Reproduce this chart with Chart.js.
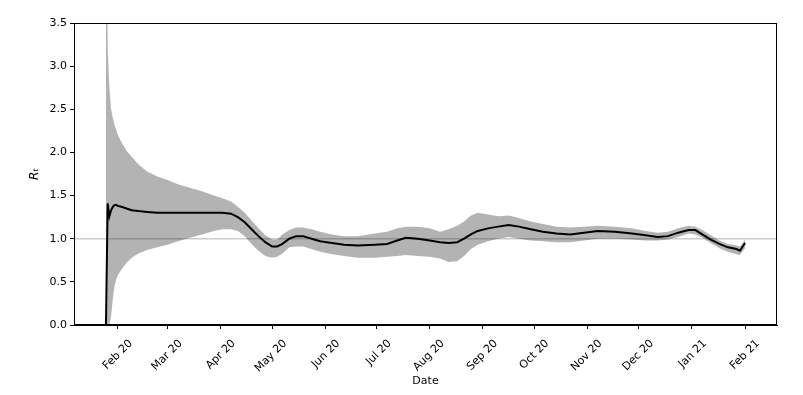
<!DOCTYPE html>
<html>
<head>
<meta charset="utf-8">
<script src="https://cdn.jsdelivr.net/npm/chart.js@4.4.1/dist/chart.umd.min.js"></script>
<style>
    html, body { margin: 0; padding: 0; background: #fff; }
</style>
</head>
<body>
<canvas id="chartRt" width="803" height="395"></canvas>
<script>
// datos (R_t estimado con su intervalo)
const fechas = [
    '2020-01-25', '2020-01-26', '2020-01-27', '2020-01-28', '2020-01-29', '2020-01-30', '2020-01-31',
    '2020-02-01', '2020-02-03', '2020-02-06', '2020-02-09', '2020-02-13', '2020-02-18', '2020-02-24',
    '2020-03-01', '2020-03-07', '2020-03-14', '2020-03-21', '2020-03-28', '2020-04-02', '2020-04-07',
    '2020-04-11', '2020-04-15', '2020-04-19', '2020-04-23', '2020-04-27', '2020-05-01', '2020-05-04',
    '2020-05-07', '2020-05-11', '2020-05-15', '2020-05-19', '2020-05-24', '2020-05-29', '2020-06-05',
    '2020-06-12', '2020-06-20', '2020-06-30', '2020-07-07', '2020-07-13', '2020-07-18', '2020-07-25',
    '2020-08-01', '2020-08-07', '2020-08-12', '2020-08-17', '2020-08-21', '2020-08-25', '2020-08-29',
    '2020-09-04', '2020-09-10', '2020-09-16', '2020-09-22', '2020-09-29', '2020-10-06', '2020-10-14',
    '2020-10-22', '2020-10-30', '2020-11-07', '2020-11-17', '2020-11-27', '2020-12-05', '2020-12-12',
    '2020-12-18', '2020-12-24', '2020-12-30', '2021-01-03', '2021-01-07', '2021-01-12', '2021-01-17',
    '2021-01-22', '2021-01-27', '2021-01-29', '2021-02-01'
];
const rtMedia = [
    0, 1.41, 1.26, 1.33, 1.37, 1.39, 1.39,
    1.38, 1.37, 1.35, 1.33, 1.32, 1.31, 1.30,
    1.30, 1.30, 1.30, 1.30, 1.30, 1.30, 1.29,
    1.25, 1.19, 1.11, 1.03, 0.96, 0.91, 0.91,
    0.94, 1.00, 1.03, 1.03, 1.00, 0.97, 0.95,
    0.93, 0.92, 0.93, 0.94, 0.98, 1.01, 1.00,
    0.98, 0.96, 0.95, 0.96, 1.00, 1.05, 1.09,
    1.12, 1.14, 1.16, 1.14, 1.11, 1.08, 1.06,
    1.05, 1.07, 1.09, 1.08, 1.06, 1.04, 1.02,
    1.03, 1.07, 1.10, 1.10, 1.05, 0.99, 0.94,
    0.90, 0.88, 0.86, 0.95
];
const rtInferior = [
    0, 0, 0, 0.10, 0.30, 0.45, 0.53,
    0.58, 0.64, 0.72, 0.78, 0.83, 0.87, 0.90,
    0.93, 0.97, 1.01, 1.05, 1.09, 1.11, 1.11,
    1.09, 1.03, 0.94, 0.86, 0.80, 0.78, 0.79,
    0.83, 0.90, 0.91, 0.91, 0.88, 0.85, 0.82,
    0.80, 0.78, 0.78, 0.79, 0.80, 0.81, 0.80,
    0.79, 0.77, 0.73, 0.74, 0.80, 0.88, 0.93,
    0.97, 1.00, 1.02, 1.00, 0.98, 0.97, 0.96,
    0.96, 0.98, 1.00, 1.00, 0.99, 0.98, 0.98,
    0.99, 1.02, 1.06, 1.05, 1.01, 0.95, 0.89,
    0.85, 0.82, 0.81, 0.89
];
const rtSuperior = [
    8, 3.2, 2.75, 2.5, 2.4, 2.32, 2.26,
    2.2, 2.12, 2.02, 1.95, 1.86, 1.78, 1.72,
    1.68, 1.63, 1.59, 1.55, 1.50, 1.47, 1.43,
    1.37, 1.30, 1.21, 1.12, 1.04, 0.99, 0.99,
    1.05, 1.10, 1.13, 1.13, 1.11, 1.08, 1.05,
    1.03, 1.03, 1.06, 1.08, 1.12, 1.14, 1.14,
    1.12, 1.08, 1.11, 1.15, 1.20, 1.27, 1.30,
    1.28, 1.26, 1.27, 1.24, 1.20, 1.17, 1.14,
    1.13, 1.14, 1.15, 1.14, 1.12, 1.09, 1.07,
    1.08, 1.12, 1.15, 1.14, 1.10, 1.04, 0.98,
    0.94, 0.92, 0.91, 0.99
];

const mesesFechas = [
    '2020-02-01', '2020-03-01', '2020-04-01', '2020-05-01', '2020-06-01', '2020-07-01', '2020-08-01',
    '2020-09-01', '2020-10-01', '2020-11-01', '2020-12-01', '2021-01-01', '2021-02-01'
];
const mesesEtiquetas = [
    'Feb 20', 'Mar 20', 'Apr 20', 'May 20', 'Jun 20', 'Jul 20', 'Aug 20',
    'Sep 20', 'Oct 20', 'Nov 20', 'Dec 20', 'Jan 21', 'Feb 21'
];
const yTicks = [0, 0.5, 1.0, 1.5, 2.0, 2.5, 3.0, 3.5];
const referencia = 1.0;

// días desde epoch
function dia(s) {
    const [a, m, d] = s.split('-').map(Number);
    return Date.UTC(a, m - 1, d) / 864e5;
}

const xs = fechas.map(dia);
const xIni = xs[0], xFin = xs[xs.length - 1];
const margen = (xFin - xIni) * 0.05;
const xMin = xIni - margen, xMax = xFin + margen;

const puntos = arr => arr.map((v, i) => ({ x: xs[i], y: v }));

Chart.defaults.font.family = 'DejaVu Sans';
Chart.defaults.font.size = 11;
Chart.defaults.color = '#000';

const marco = {
    id: 'marco',
    afterDraw(chart) {
        const { ctx, chartArea: a } = chart;
        ctx.save();
        ctx.strokeStyle = '#000';
        ctx.lineWidth = 1;
        ctx.strokeRect(Math.round(a.left) + 0.5, Math.round(a.top) + 0.5,
            Math.round(a.right - a.left) - 1, Math.round(a.bottom - a.top) - 1);
        ctx.restore();
    }
};

new Chart(document.getElementById('chartRt').getContext('2d'), {
    type: 'line',
    data: {
        datasets: [
            {
                label: 'Rt',
                data: puntos(rtMedia),
                borderColor: '#000',
                borderWidth: 2,
                pointRadius: 0,
                fill: false,
                tension: 0
            },
            {
                label: 'ref',
                data: [{ x: xMin, y: referencia }, { x: xMax, y: referencia }],
                borderColor: 'rgba(0,0,0,0.2)',
                borderWidth: 1.5,
                pointRadius: 0,
                fill: false
            },
            {
                label: 'superior',
                data: puntos(rtSuperior),
                borderWidth: 0,
                borderColor: 'rgba(0,0,0,0)',
                backgroundColor: '#b3b3b3',
                pointRadius: 0,
                fill: '+1'
            },
            {
                label: 'inferior',
                data: puntos(rtInferior),
                borderWidth: 0,
                borderColor: 'rgba(0,0,0,0)',
                pointRadius: 0,
                fill: false
            }
        ]
    },
    options: {
        responsive: false,
        animation: false,
        layout: { padding: { top: 23, right: 26, left: 0, bottom: 0 } },
        plugins: { legend: { display: false }, tooltip: { enabled: false } },
        scales: {
            x: {
                type: 'linear',
                min: xMin,
                max: xMax,
                afterBuildTicks: s => { s.ticks = mesesFechas.map(f => ({ value: dia(f) })); },
                afterFit: s => { s.height = 70; },
                ticks: {
                    autoSkip: false,
                    minRotation: 45,
                    maxRotation: 45,
                    labelOffset: 13,
                    padding: 8,
                    callback: (v, i) => mesesEtiquetas[i]
                },
                grid: { drawOnChartArea: false, drawTicks: true, tickLength: 4, color: '#000' },
                border: { display: true, color: '#000', width: 1 },
                title: { display: true, text: 'Date', padding: { top: 0, bottom: 7 } }
            },
            y: {
                min: 0,
                max: 3.5,
                afterBuildTicks: s => { s.ticks = yTicks.map(v => ({ value: v })); },
                afterFit: s => { s.width = 74; },
                ticks: { padding: 3, callback: v => v.toFixed(1) },
                grid: { drawOnChartArea: false, drawTicks: true, tickLength: 4, color: '#000' },
                border: { display: true, color: '#000', width: 1 },
                title: {
                    display: true,
                    text: 'Rₜ',
                    font: { style: 'italic', size: 12 },
                    padding: { top: 28, bottom: 0 }
                }
            }
        }
    },
    plugins: [marco]
});
</script>
</body>
</html>
